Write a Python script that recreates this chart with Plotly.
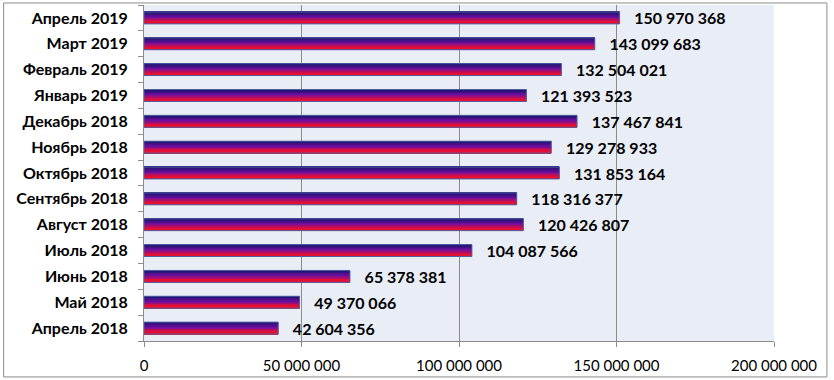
import plotly.graph_objects as go

months = ["Апрель 2018", "Май 2018", "Июнь 2018", "Июль 2018", "Август 2018",
          "Сентябрь 2018", "Октябрь 2018", "Ноябрь 2018", "Декабрь 2018",
          "Январь 2019", "Февраль 2019", "Март 2019", "Апрель 2019"]
values = [42604356, 49370066, 65378381, 104087566, 120426807, 118316377,
          131853164, 129278933, 137467841, 121393523, 132504021, 143099683,
          150970368]
x_ticks = [0, 50000000, 100000000, 150000000, 200000000]

# gradient stops (bottom -> top): red -> purple -> navy
stops = [(0.0, (236, 20, 40)), (0.25, (226, 14, 56)), (0.6, (112, 14, 160)),
         (1.0, (28, 20, 112))]


def lerp_color(t):
    for (t0, c0), (t1, c1) in zip(stops[:-1], stops[1:]):
        if t0 <= t <= t1:
            f = (t - t0) / (t1 - t0)
            return "rgb(%d,%d,%d)" % tuple(round(a + (b - a) * f) for a, b in zip(c0, c1))
    return "rgb(%d,%d,%d)" % stops[-1][1]


fig = go.Figure()
bar_w = 0.46
n = 14
sw = bar_w / n
for i in range(n):
    t = (i + 0.5) / n
    fig.add_trace(go.Bar(
        y=months, x=values, orientation="h",
        width=sw * 1.08, offset=-bar_w / 2 + i * sw,
        marker=dict(color=lerp_color(t), line=dict(width=0)),
        hoverinfo="skip", showlegend=False,
    ))

fig.add_trace(go.Bar(
    y=months, x=values, orientation="h",
    width=bar_w, offset=-bar_w / 2,
    marker=dict(color="rgba(0,0,0,0)", line=dict(color="#5060a0", width=1)),
    texttemplate="\u00a0\u00a0\u00a0%{x:,d}", textposition="outside",
    constraintext="none",
    textfont=dict(family="Lato, Calibri, sans-serif", size=16, color="black", weight="bold"),
    cliponaxis=False, showlegend=False,
))

fig.update_layout(
    width=834, height=380,
    margin=dict(l=144, r=60, t=5, b=39, autoexpand=False),
    barmode="overlay",
    separators=", ",
    paper_bgcolor="white",
    plot_bgcolor="#e9edf6",
    font=dict(family="Lato, Calibri, sans-serif", size=14, color="black"),
    xaxis=dict(range=[0, 200000000], tickvals=x_ticks, tickformat=",d",
               showgrid=True, gridcolor="#8c8c8c", gridwidth=1,
               ticks="outside", ticklen=5, tickcolor="#8c8c8c",
               showline=True, linecolor="#8c8c8c", linewidth=1,
               zeroline=False, ticklabelstandoff=6,
               tickfont=dict(size=15)),
    yaxis=dict(categoryorder="array", categoryarray=months,
               tickson="boundaries", ticks="outside", ticklen=5, tickcolor="#8c8c8c",
               showline=True, linecolor="#8c8c8c", linewidth=1,
               showgrid=False, ticklabelstandoff=12,
               tickfont=dict(size=16, weight="bold")),
    shapes=[dict(type="rect", xref="paper", yref="paper",
                 x0=-0.2228, x1=1.084, y0=-0.107, y1=1.006,
                 line=dict(color="#8c8c8c", width=1), fillcolor="rgba(0,0,0,0)",
                 layer="below")],
)

fig.write_html("out.html", config={"displayModeBar": False},
               post_script="document.body.style.margin='0';document.body.style.overflow='hidden';")
